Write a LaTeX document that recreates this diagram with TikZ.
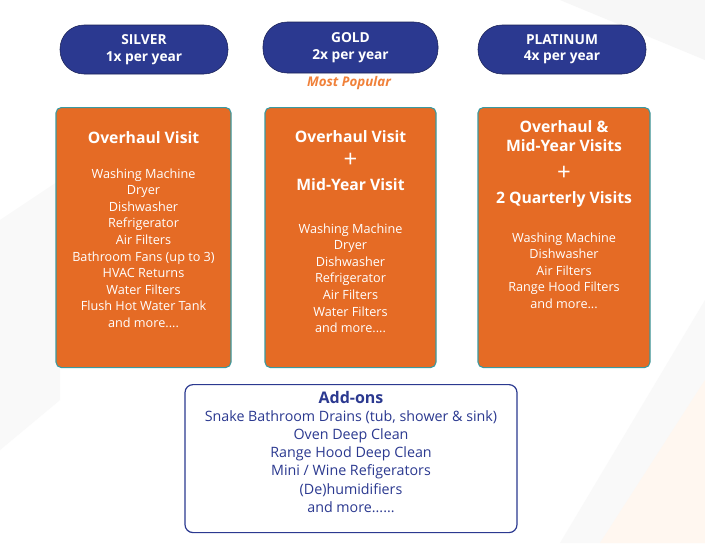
\documentclass[tikz,border=0pt]{standalone}
\usepackage{fontspec}
\setmainfont{Open Sans}
\definecolor{navy}{HTML}{2B3990}
\definecolor{org}{HTML}{E56B25}
\definecolor{teal1}{HTML}{3A9AA0}
\definecolor{org2}{HTML}{F0813A}
\begin{document}
\begin{tikzpicture}[x=0.75pt,y=-0.75pt,
 pill/.style={draw=navy!60!black,fill=navy,rounded corners=18pt,text=white,font=\bfseries\fontsize{10.3}{12.3}\selectfont,align=center,minimum width=168*0.75pt,minimum height=49*0.75pt},
 obox/.style={draw=teal1,line width=0.8pt,fill=org,rounded corners=4pt,text=white,align=center,minimum width=175*0.75pt,minimum height=260*0.75pt,anchor=north},
 head/.style={text=white,font=\bfseries\fontsize{11.8}{14.5}\selectfont,align=center},
 items/.style={text=white,font=\fontsize{9.5}{12.4}\selectfont,align=center}]
\useasboundingbox (0,0) rectangle (705,543);
\fill[white] (0,0) rectangle (705,543);
\fill[gray!6] (560,0) -- (705,60) -- (705,0) -- cycle;
\fill[gray!5] (560,543) -- (705,300) -- (705,543) -- cycle;
\fill[orange!6] (600,543) -- (705,380) -- (705,543) -- cycle;
\fill[gray!5] (0,220) -- (60,180) -- (60,400) -- (0,450) -- cycle;
\node[pill] (s) at (144,49.5) {SILVER\\1x per year};
\node[pill,minimum width=175*0.75pt,minimum height=51*0.75pt] (g) at (350.5,47.5) {GOLD\\2x per year};
\node[pill] (p) at (562,49.5) {PLATINUM\\4x per year};
\node[text=org2,font=\bfseries\itshape\fontsize{10}{12}\selectfont] (mp) at (349,83) {Most Popular};
\node[obox] (b1) at (143.5,107) {};
\node[obox,minimum width=171*0.75pt] (b2) at (350.5,107) {};
\node[obox,minimum width=172*0.75pt] (b3) at (564,107) {};
\node[head] (h1) at (143.5,138) {Overhaul Visit};
\node[items,anchor=north] (i1) at (143.5,164) {Washing Machine\\Dryer\\Dishwasher\\Refrigerator\\Air Filters\\Bathroom Fans (up to 3)\\HVAC Returns\\Water Filters\\Flush Hot Water Tank\\and more....};
\node[head] (h2a) at (350.5,137) {Overhaul Visit};
\node[font=\fontsize{18}{18}\selectfont,text=white] (pl2) at (350.5,160) {+};
\node[head] (h2b) at (350.5,185) {Mid-Year Visit};
\node[items,anchor=north] (i2) at (350.5,219) {Washing Machine\\Dryer\\Dishwasher\\Refrigerator\\Air Filters\\Water Filters\\and more....};
\node[head] (h3) at (564,136) {Overhaul \&\\Mid-Year Visits};
\node[font=\fontsize{18}{18}\selectfont,text=white] (pl3) at (564,173) {+};
\node[head] (h3b) at (564,199) {2 Quarterly Visits};
\node[items,anchor=north] (i3) at (564,228) {Washing Machine\\Dishwasher\\Air Filters\\Range Hood Filters\\and more...};
\node[draw=navy,line width=0.9pt,fill=white,rounded corners=6pt,minimum width=332*0.75pt,minimum height=148*0.75pt,anchor=north] (ad) at (351,384) {};
\node[text=navy,font=\bfseries\fontsize{12}{14}\selectfont] (adh) at (351,397) {Add-ons};
\node[text=navy,font=\fontsize{10.7}{13.6}\selectfont,align=center,anchor=north] (adi) at (351,406) {Snake Bathroom Drains (tub, shower \& sink)\\Oven Deep Clean\\Range Hood Deep Clean\\Mini / Wine Refigerators\\(De)humidifiers\\and more......};
\end{tikzpicture}
\end{document}
